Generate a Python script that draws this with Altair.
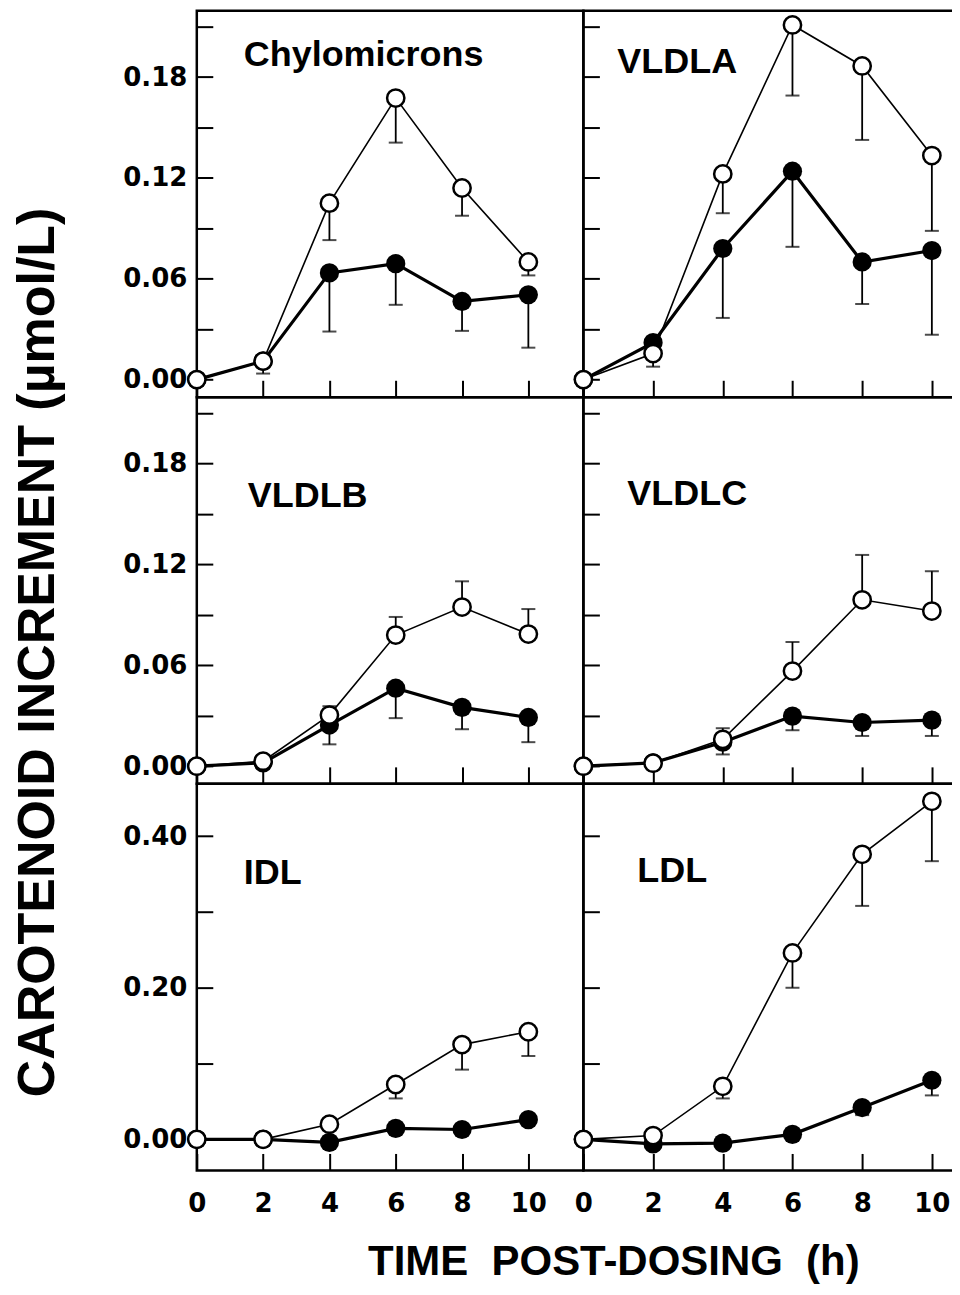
import altair as alt
import pandas as pd

times = [0, 2, 4, 6, 8, 10]

# values (open = upper series, filled = lower series)
chylo_open = [0.0, 0.011, 0.105, 0.1675, 0.114, 0.070]
chylo_open_err = [None, 0.0036, 0.083, 0.141, 0.0975, 0.062]
chylo_filled = [0.0, 0.011, 0.0635, 0.069, 0.0465, 0.0505]
chylo_filled_err = [None, None, 0.0286, 0.0445, 0.029, 0.019]

vldla_open = [0.0, 0.0155, 0.1224, 0.211, 0.1866, 0.1333]
vldla_open_err = [None, 0.0077, 0.099, 0.169, 0.1426, 0.0885]
vldla_filled = [0.0, 0.022, 0.078, 0.124, 0.070, 0.0768]
vldla_filled_err = [None, None, 0.0367, 0.079, 0.045, 0.0267]

vldlb_open = [0.0, 0.003, 0.0304, 0.078, 0.0947, 0.0786]
vldlb_open_err = [None, None, 0.0357, 0.0888, 0.110, 0.0935]
vldlb_filled = [0.0, 0.002, 0.0245, 0.0464, 0.035, 0.029]
vldlb_filled_err = [None, None, 0.013, 0.0286, 0.022, 0.0143]

vldlc_open = [0.0, 0.0018, 0.016, 0.0566, 0.099, 0.0923]
vldlc_open_err = [None, None, 0.0226, 0.0739, 0.1257, 0.116]
vldlc_filled = [0.0, 0.002, 0.0143, 0.0298, 0.026, 0.0274]
vldlc_filled_err = [None, None, 0.007, 0.0214, 0.018, 0.018]

idl_open = [0.0, 0.0, 0.020, 0.0724, 0.125, 0.142]
idl_open_err = [None, None, None, 0.054, 0.092, 0.110]
idl_filled = [0.0, 0.0, -0.004, 0.0145, 0.013, 0.026]
idl_filled_err = [None, None, None, None, None, None]

ldl_open = [0.0, 0.005, 0.070, 0.246, 0.376, 0.446]
ldl_open_err = [None, None, 0.054, 0.200, 0.308, 0.367]
ldl_filled = [0.0, -0.006, -0.005, 0.0066, 0.042, 0.078]
ldl_filled_err = [None, None, None, None, 0.032, 0.058]

ticks_small = [0.0, 0.03, 0.06, 0.09, 0.12, 0.15, 0.18, 0.21]
ticks_large = [0.0, 0.1, 0.2, 0.3, 0.4]

TICK_FONT = "DejaVu Sans"
TITLE_FONT = "Liberation Sans"


def make_df(open_v, open_e, fill_v, fill_e):
    rows = []
    for t, ov, oe, fv, fe in zip(times, open_v, open_e, fill_v, fill_e):
        rows.append({"t": t, "v": ov, "err": oe, "grp": "open"})
        rows.append({"t": t, "v": fv, "err": fe, "grp": "filled"})
    return pd.DataFrame(rows)


def panel(df, label, lx, ly, xdom, width, ydom, yvals, lab_mod,
          ylabels, xlabels, ytitle=None, xtitle=None):
    xs = alt.Scale(domain=xdom, nice=False, zero=False)
    ys = alt.Scale(domain=ydom, nice=False, zero=False)
    xaxis_kw = dict(values=times, tickSize=17, offset=-17, domain=False, grid=False,
                    labels=xlabels, labelFont=TICK_FONT, labelFontWeight="bold",
                    labelFontSize=26, labelPadding=20, labelColor="black",
                    labelOverlap=False, labelBound=False, labelFlush=False,
                    tickColor="black", tickWidth=2, format="d")
    if xtitle:
        xaxis_kw.update(title=xtitle, titleFont=TITLE_FONT, titleFontWeight="bold",
                        titleFontSize=42, titleColor="black", titleX=417, titleY=121,
                        titleAlign="center", titleBaseline="alphabetic")
    else:
        xaxis_kw.update(title=None)
    expr = ("(round(datum.value*100) %% %d == 0) ? format(datum.value, '.2f') : ''" % lab_mod)
    yaxis_kw = dict(values=yvals, tickSize=16, offset=-16, domain=False, grid=False,
                    labels=ylabels, labelFont=TICK_FONT, labelFontWeight="bold",
                    labelFontSize=26, labelPadding=10, labelColor="black",
                    labelExpr=expr, labelOverlap=False, labelBound=False,
                    labelFlush=False, tickColor="black", tickWidth=2)
    if ytitle:
        yaxis_kw.update(title=ytitle, titleFont=TITLE_FONT, titleFontWeight="bold",
                        titleFontSize=52, titleColor="black", titleX=-159, titleY=255,
                        titleAlign="center", titleBaseline="alphabetic", titleAngle=270)
    else:
        yaxis_kw.update(title=None)
    xa = alt.Axis(**xaxis_kw)
    ya = alt.Axis(**yaxis_kw)

    base = alt.Chart(df)
    X = alt.X("t:Q", scale=xs, axis=xa)
    err_rows = base.transform_filter("isValid(datum.err)")
    bars = err_rows.mark_rule(color="black", strokeWidth=1.8).encode(
        x=X, y=alt.Y("v:Q", scale=ys, axis=ya), y2="err:Q")
    caps = err_rows.mark_tick(color="black", orient="horizontal", size=14,
                              thickness=2).encode(
        x=X, y=alt.Y("err:Q", scale=ys, axis=ya))
    filled = base.transform_filter("datum.grp == 'filled'")
    opened = base.transform_filter("datum.grp == 'open'")
    fline = filled.mark_line(color="black", strokeWidth=3.2).encode(
        x=X, y=alt.Y("v:Q", scale=ys, axis=ya))
    fpts = filled.mark_point(shape="circle", filled=True, fill="black", size=370,
                             opacity=1).encode(x=X, y=alt.Y("v:Q", scale=ys, axis=ya))
    oline = opened.mark_line(color="black", strokeWidth=1.6).encode(
        x=X, y=alt.Y("v:Q", scale=ys, axis=ya))
    opts = opened.mark_point(shape="circle", filled=True, fill="white", stroke="black",
                             strokeWidth=2.5, size=300, opacity=1).encode(
        x=X, y=alt.Y("v:Q", scale=ys, axis=ya))
    txt = alt.Chart(pd.DataFrame({"label": [label]})).mark_text(
        align="left", baseline="alphabetic", font=TITLE_FONT, fontWeight="bold",
        fontSize=36, color="black").encode(
        x=alt.value(lx), y=alt.value(ly), text="label:N")
    return alt.layer(bars, caps, fline, fpts, oline, opts, txt).properties(
        width=width, height=387)


LW, RW = 387, 375
LDOM, RDOM = [0, 11.66], [0, 10.75]
D1 = [-0.0105, 0.2195]
D3 = [-0.041, 0.469]

p1 = panel(make_df(chylo_open, chylo_open_err, chylo_filled, chylo_filled_err),
           "Chylomicrons", 47, 55, LDOM, LW, D1, ticks_small, 6, True, False)
p2 = panel(make_df(vldla_open, vldla_open_err, vldla_filled, vldla_filled_err),
           "VLDLA", 34, 62, RDOM, RW, D1, ticks_small, 6, False, False)
p3 = panel(make_df(vldlb_open, vldlb_open_err, vldlb_filled, vldlb_filled_err),
           "VLDLB", 51, 110, LDOM, LW, D1, ticks_small, 6, True, False,
           ytitle="CAROTENOID INCREMENT (\u00b5mol/L)")
p4 = panel(make_df(vldlc_open, vldlc_open_err, vldlc_filled, vldlc_filled_err),
           "VLDLC", 44, 108, RDOM, RW, D1, ticks_small, 6, False, False)
p5 = panel(make_df(idl_open, idl_open_err, idl_filled, idl_filled_err),
           "IDL", 47, 100, LDOM, LW, D3, ticks_large, 20, True, True,
           xtitle="TIME\u00a0\u00a0POST-DOSING\u00a0\u00a0(h)")
p6 = panel(make_df(ldl_open, ldl_open_err, ldl_filled, ldl_filled_err),
           "LDL", 54, 98, RDOM, RW, D3, ticks_large, 20, False, True)

chart = alt.concat(p1, p2, p3, p4, p5, p6, columns=2, spacing=0,
                   bounds="flush").properties(
    padding={"top": 0, "left": 2, "right": -8, "bottom": 0},
    background="white",
).configure_view(
    stroke="black", strokeWidth=2.5
)

chart.save("out.html", embed_options={"renderer": "svg", "actions": False})
